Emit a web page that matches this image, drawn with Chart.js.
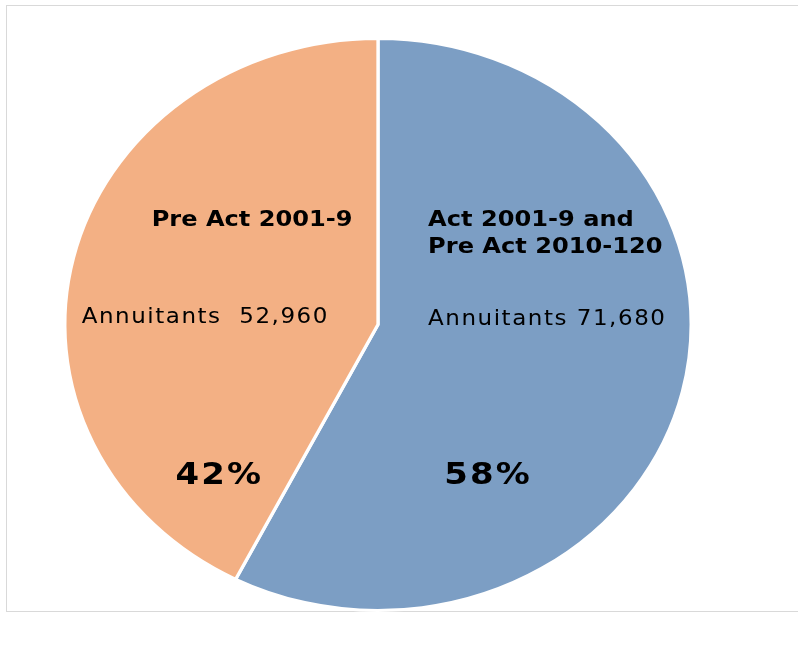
<!DOCTYPE html>
<html>
<head>
<meta charset="utf-8">
<style>
  html, body { margin: 0; padding: 0; background: #ffffff; }
  #wrap { position: relative; width: 798px; height: 657px; }
  canvas { display: block; }
</style>
<script src="https://cdn.jsdelivr.net/npm/chart.js@4/dist/chart.umd.min.js"></script>
</head>
<body>
<div id="wrap"><canvas id="pie" width="798" height="657"></canvas></div>
<script>
// Annuitant groups, drawn clockwise from 12 o'clock
const groupTitles = [
  ['Act 2001-9 and', 'Pre Act 2010-120'],
  ['Pre Act 2001-9']
];
const annuitants = [71680, 52960];
const sliceColors = ['#7c9ec4', '#f3b084'];

// Horizontal stretch applied to the pie and its labels
const STRETCH_X = 1.095;
const CENTER_X = 378;

// Label anchors, in units of the pie radius, relative to its centre
const titleAnchor = [
  { dx: 0.160, dy: -0.346, align: 'left' },
  { dx: -0.402, dy: -0.346, align: 'center' }
];
const countAnchor = [
  { dx: 0.160, dy: 0.0, align: 'left', text: 'Annuitants ' },
  { dx: -0.946, dy: -0.004, align: 'left', text: 'Annuitants  ' }
];
const pctAnchor = [
  { dx: 0.348, dy: 0.557 },
  { dx: -0.510, dy: 0.557 }
];

const total = annuitants.reduce((a, b) => a + b, 0);
const pct = annuitants.map(v => Math.round(v / total * 100) + '%');

const stretchPlugin = {
  id: 'stretch',
  beforeDraw(chart) {
    const ctx = chart.ctx;
    // outer frame
    ctx.save();
    ctx.strokeStyle = '#d9d9d9';
    ctx.lineWidth = 1;
    ctx.strokeRect(6.5, 5.5, 820, 606);
    ctx.restore();
  },
  beforeDatasetsDraw(chart) {
    const ctx = chart.ctx;
    const cx = chart.getDatasetMeta(0).data[0].x;
    ctx.save();
    ctx.translate(CENTER_X, 0);
    ctx.scale(STRETCH_X, 1);
    ctx.translate(-cx, 0);
  },
  afterDatasetsDraw(chart) {
    const ctx = chart.ctx;
    const arc = chart.getDatasetMeta(0).data[0];
    const cx = arc.x, cy = arc.y, r = arc.outerRadius;
    ctx.fillStyle = '#000000';
    ctx.textBaseline = 'alphabetic';

    // group titles
    ctx.font = 'bold 22px "DejaVu Sans"';
    ctx.letterSpacing = '0px';
    groupTitles.forEach((lines, i) => {
      const a = titleAnchor[i];
      ctx.textAlign = a.align;
      lines.forEach((line, j) => {
        ctx.fillText(line, cx + a.dx * r, cy + a.dy * r + j * 27);
      });
    });

    // annuitant counts
    ctx.font = '21px "DejaVu Sans"';
    ctx.letterSpacing = '1.4px';
    annuitants.forEach((v, i) => {
      const a = countAnchor[i];
      ctx.textAlign = a.align;
      ctx.fillText(a.text + v.toLocaleString('en-US'), cx + a.dx * r, cy + a.dy * r);
    });

    // shares
    ctx.font = 'bold 31px "DejaVu Sans"';
    ctx.letterSpacing = '2px';
    ctx.textAlign = 'center';
    pct.forEach((p, i) => {
      const a = pctAnchor[i];
      ctx.fillText(p, cx + a.dx * r + 1, cy + a.dy * r);
    });
    ctx.letterSpacing = '0px';
    ctx.restore();
  }
};

new Chart(document.getElementById('pie'), {
  type: 'pie',
  data: {
    labels: groupTitles.map(t => t.join(' ')),
    datasets: [{
      data: annuitants,
      backgroundColor: sliceColors,
      borderColor: '#ffffff',
      borderWidth: 3
    }]
  },
  options: {
    responsive: false,
    animation: false,
    events: [],
    layout: { padding: { top: 36, bottom: 44, left: 91, right: 132 } },
    plugins: {
      legend: { display: false },
      tooltip: { enabled: false }
    }
  },
  plugins: [stretchPlugin]
});
</script>
</body>
</html>
